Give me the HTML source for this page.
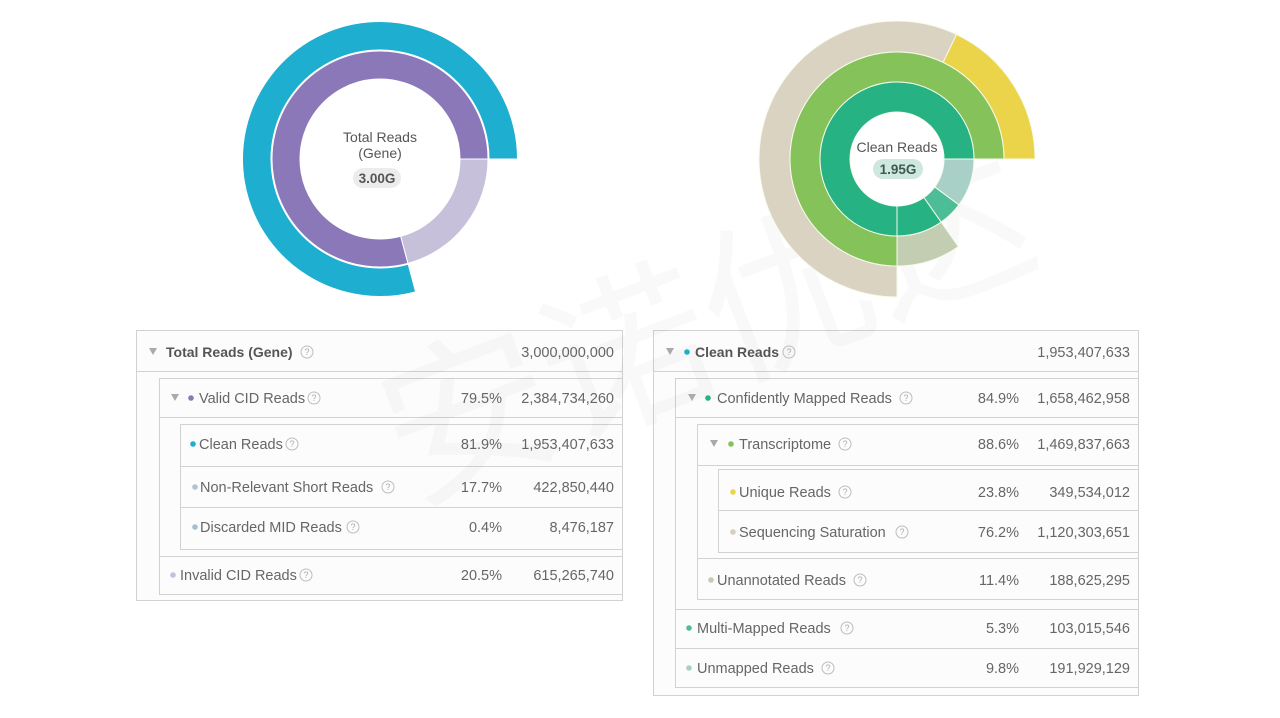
<!DOCTYPE html>
<html>
<head>
<meta charset="utf-8">
<style>
  html,body{margin:0;padding:0;background:#fff;}
  body{width:1280px;height:718px;overflow:hidden;}
  svg{display:block;}
  .t{font-family:"Liberation Sans","Noto Sans CJK SC",sans-serif;font-size:14.5px;fill:#666;}
  .b{font-weight:bold;fill:#555;font-size:14px;}
  .r{text-anchor:end;}
  .q{font-family:"Liberation Sans",sans-serif;font-size:9px;fill:#aaa;text-anchor:middle;}
</style>
</head>
<body>
<svg width="1280" height="718" viewBox="0 0 1280 718" xmlns="http://www.w3.org/2000/svg">
  <rect x="0" y="0" width="1280" height="718" fill="#ffffff"/>

  <!-- ===== Left table ===== -->
  <g fill="#fcfcfc" stroke="#d2d2d2" stroke-width="1">
    <rect x="136.5" y="330.5" width="486" height="270"/>
    <rect x="159.5" y="378.5" width="463" height="216"/>
    <rect x="180.5" y="424.5" width="442" height="125"/>
  </g>
  <g stroke="#d2d2d2" stroke-width="1">
    <line x1="136" y1="371.5" x2="623" y2="371.5"/>
    <line x1="159" y1="417.5" x2="623" y2="417.5"/>
    <line x1="180" y1="466.5" x2="623" y2="466.5"/>
    <line x1="180" y1="507.5" x2="623" y2="507.5"/>
    <line x1="159" y1="556.5" x2="623" y2="556.5"/>
  </g>

  <!-- ===== Right table ===== -->
  <g fill="#fcfcfc" stroke="#d2d2d2" stroke-width="1">
    <rect x="653.5" y="330.5" width="485" height="365"/>
    <rect x="675.5" y="378.5" width="463" height="309"/>
    <rect x="697.5" y="424.5" width="441" height="175"/>
    <rect x="718.5" y="469.5" width="420" height="83"/>
  </g>
  <g stroke="#d2d2d2" stroke-width="1">
    <line x1="653" y1="371.5" x2="1139" y2="371.5"/>
    <line x1="675" y1="417.5" x2="1139" y2="417.5"/>
    <line x1="697" y1="465.5" x2="1139" y2="465.5"/>
    <line x1="718" y1="510.5" x2="1139" y2="510.5"/>
    <line x1="697" y1="558.5" x2="1139" y2="558.5"/>
    <line x1="675" y1="609.5" x2="1139" y2="609.5"/>
    <line x1="675" y1="648.5" x2="1139" y2="648.5"/>
  </g>

  <!-- Watermark -->
  <text x="705" y="385" text-anchor="middle" transform="rotate(-21 705 320)" style="font-family:'Noto Sans CJK SC','WenQuanYi Zen Hei',sans-serif;font-size:170px;fill:#000;fill-opacity:0.022;">安诺优达</text>

  <!-- ===== Left donut ===== -->
  <g stroke="#ffffff" stroke-width="1">
    <path d="M 517.5 159 A 137.5 137.5 0 1 0 415.59 291.81 L 408.21 264.28 A 109 109 0 1 1 489 159 Z" fill="#1eaed0"/>
    <path d="M 488 159 A 108 108 0 1 0 407.95 263.32 L 400.71 236.27 A 80 80 0 1 1 460 159 Z" fill="#8a78b9"/>
    <path d="M 488 159 A 108 108 0 0 1 407.95 263.32 L 400.71 236.27 A 80 80 0 0 0 460 159 Z" fill="#c6c0da"/>
  </g>
  <circle cx="380" cy="159" r="79.5" fill="#ffffff"/>
  <text class="t" x="380" y="142" text-anchor="middle" style="font-size:14px;fill:#555">Total Reads</text>
  <text class="t" x="380" y="158" text-anchor="middle" style="font-size:14px;fill:#555">(Gene)</text>
  <rect x="353" y="168" width="48" height="20" rx="10" fill="#ececec"/>
  <text class="t b" x="377" y="183" text-anchor="middle" style="font-size:13.5px">3.00G</text>

  <!-- ===== Right donut ===== -->
  <g stroke="#f6fbec" stroke-width="1">
    <path d="M 1035 159 A 138 138 0 0 0 956.41 34.44 L 943.06 62.42 A 107 107 0 0 1 1004 159 Z" fill="#ebd449"/>
    <path d="M 956.41 34.44 A 138 138 0 1 0 897 297 L 897 266 A 107 107 0 1 1 943.06 62.42 Z" fill="#dad3c1"/>
    <path d="M 1004 159 A 107 107 0 1 0 897 266 L 897 236 A 77 77 0 1 1 974 159 Z" fill="#85c25a"/>
    <path d="M 897 266 A 107 107 0 0 0 958.38 246.65 L 941.17 222.08 A 77 77 0 0 1 897 236 Z" fill="#c2cdb2"/>
    <path d="M 974 159 A 77 77 0 1 0 897 236 L 897 206 A 47 47 0 1 1 944 159 Z" fill="#26b283"/>
    <path d="M 897 236 A 77 77 0 0 0 941.17 222.08 L 923.96 197.5 A 47 47 0 0 1 897 206 Z" fill="#26b283"/>
    <path d="M 941.17 222.08 A 77 77 0 0 0 958.9 204.8 L 934.78 186.96 A 47 47 0 0 1 923.96 197.5 Z" fill="#4dbd98"/>
    <path d="M 958.9 204.8 A 77 77 0 0 0 974 159 L 944 159 A 47 47 0 0 1 934.78 186.96 Z" fill="#a8d0c6"/>
  </g>
  <circle cx="897" cy="159" r="46.5" fill="#ffffff"/>
  <text class="t" x="897" y="152" text-anchor="middle" style="font-size:14px;fill:#555">Clean Reads</text>
  <rect x="873" y="159" width="50" height="20" rx="10" fill="#cfe8df"/>
  <text class="t b" x="898" y="174" text-anchor="middle" style="font-size:13.5px;fill:#3d5a52">1.95G</text>

  <!-- triangles -->
  <g fill="#aaaaaa">
    <polygon points="149,348 157,348 153,355"/>
    <polygon points="171,394 179,394 175,401"/>
    <polygon points="666,348 674,348 670,355"/>
    <polygon points="688,394 696,394 692,401"/>
    <polygon points="710,440 718,440 714,447"/>
  </g>

  <!-- dots -->
  <circle cx="191" cy="398" r="2.8" fill="#8a78b9"/>
  <circle cx="193" cy="444" r="2.8" fill="#1eaed0"/>
  <circle cx="195" cy="487" r="2.8" fill="#b3c2cc"/>
  <circle cx="195" cy="527" r="2.8" fill="#a6bfcc"/>
  <circle cx="173" cy="575" r="2.8" fill="#c6c0da"/>

  <circle cx="687" cy="352" r="2.8" fill="#1eaed0"/>
  <circle cx="708" cy="398" r="2.8" fill="#26b283"/>
  <circle cx="731" cy="444" r="2.8" fill="#85c25a"/>
  <circle cx="733" cy="492" r="2.8" fill="#ebd449"/>
  <circle cx="733" cy="532" r="2.8" fill="#d6cfbd"/>
  <circle cx="711" cy="580" r="2.8" fill="#c2cdb2"/>
  <circle cx="689" cy="628" r="2.8" fill="#4dbd98"/>
  <circle cx="689" cy="668" r="2.8" fill="#a8d0c6"/>

  <!-- question icons -->
  <g fill="none" stroke="#bdbdbd" stroke-width="1">
    <circle cx="307" cy="352" r="6"/>
    <circle cx="314" cy="398" r="6"/>
    <circle cx="292" cy="444" r="6"/>
    <circle cx="388" cy="487" r="6"/>
    <circle cx="353" cy="527" r="6"/>
    <circle cx="306" cy="575" r="6"/>
    <circle cx="789" cy="352" r="6"/>
    <circle cx="906" cy="398" r="6"/>
    <circle cx="845" cy="444" r="6"/>
    <circle cx="845" cy="492" r="6"/>
    <circle cx="902" cy="532" r="6"/>
    <circle cx="860" cy="580" r="6"/>
    <circle cx="847" cy="628" r="6"/>
    <circle cx="828" cy="668" r="6"/>
  </g>
  <g class="q">
    <text class="q" x="307" y="355">?</text>
    <text class="q" x="314" y="401">?</text>
    <text class="q" x="292" y="447">?</text>
    <text class="q" x="388" y="490">?</text>
    <text class="q" x="353" y="530">?</text>
    <text class="q" x="306" y="578">?</text>
    <text class="q" x="789" y="355">?</text>
    <text class="q" x="906" y="401">?</text>
    <text class="q" x="845" y="447">?</text>
    <text class="q" x="845" y="495">?</text>
    <text class="q" x="902" y="535">?</text>
    <text class="q" x="860" y="583">?</text>
    <text class="q" x="847" y="631">?</text>
    <text class="q" x="828" y="671">?</text>
  </g>

  <!-- left table text -->
  <text class="t b" x="166" y="357">Total Reads (Gene)</text>
  <text class="t r" x="614" y="357">3,000,000,000</text>

  <text class="t" x="199" y="403">Valid CID Reads</text>
  <text class="t r" x="502" y="403">79.5%</text>
  <text class="t r" x="614" y="403">2,384,734,260</text>

  <text class="t" x="199" y="449">Clean Reads</text>
  <text class="t r" x="502" y="449">81.9%</text>
  <text class="t r" x="614" y="449">1,953,407,633</text>

  <text class="t" x="200" y="492">Non-Relevant Short Reads</text>
  <text class="t r" x="502" y="492">17.7%</text>
  <text class="t r" x="614" y="492">422,850,440</text>

  <text class="t" x="200" y="532">Discarded MID Reads</text>
  <text class="t r" x="502" y="532">0.4%</text>
  <text class="t r" x="614" y="532">8,476,187</text>

  <text class="t" x="180" y="580">Invalid CID Reads</text>
  <text class="t r" x="502" y="580">20.5%</text>
  <text class="t r" x="614" y="580">615,265,740</text>

  <!-- right table text -->
  <text class="t b" x="695" y="357">Clean Reads</text>
  <text class="t r" x="1130" y="357">1,953,407,633</text>

  <text class="t" x="717" y="403">Confidently Mapped Reads</text>
  <text class="t r" x="1019" y="403">84.9%</text>
  <text class="t r" x="1130" y="403">1,658,462,958</text>

  <text class="t" x="739" y="449">Transcriptome</text>
  <text class="t r" x="1019" y="449">88.6%</text>
  <text class="t r" x="1130" y="449">1,469,837,663</text>

  <text class="t" x="739" y="497">Unique Reads</text>
  <text class="t r" x="1019" y="497">23.8%</text>
  <text class="t r" x="1130" y="497">349,534,012</text>

  <text class="t" x="739" y="537">Sequencing Saturation</text>
  <text class="t r" x="1019" y="537">76.2%</text>
  <text class="t r" x="1130" y="537">1,120,303,651</text>

  <text class="t" x="717" y="585">Unannotated Reads</text>
  <text class="t r" x="1019" y="585">11.4%</text>
  <text class="t r" x="1130" y="585">188,625,295</text>

  <text class="t" x="697" y="633">Multi-Mapped Reads</text>
  <text class="t r" x="1019" y="633">5.3%</text>
  <text class="t r" x="1130" y="633">103,015,546</text>

  <text class="t" x="697" y="673">Unmapped Reads</text>
  <text class="t r" x="1019" y="673">9.8%</text>
  <text class="t r" x="1130" y="673">191,929,129</text>
</svg>
</body>
</html>
